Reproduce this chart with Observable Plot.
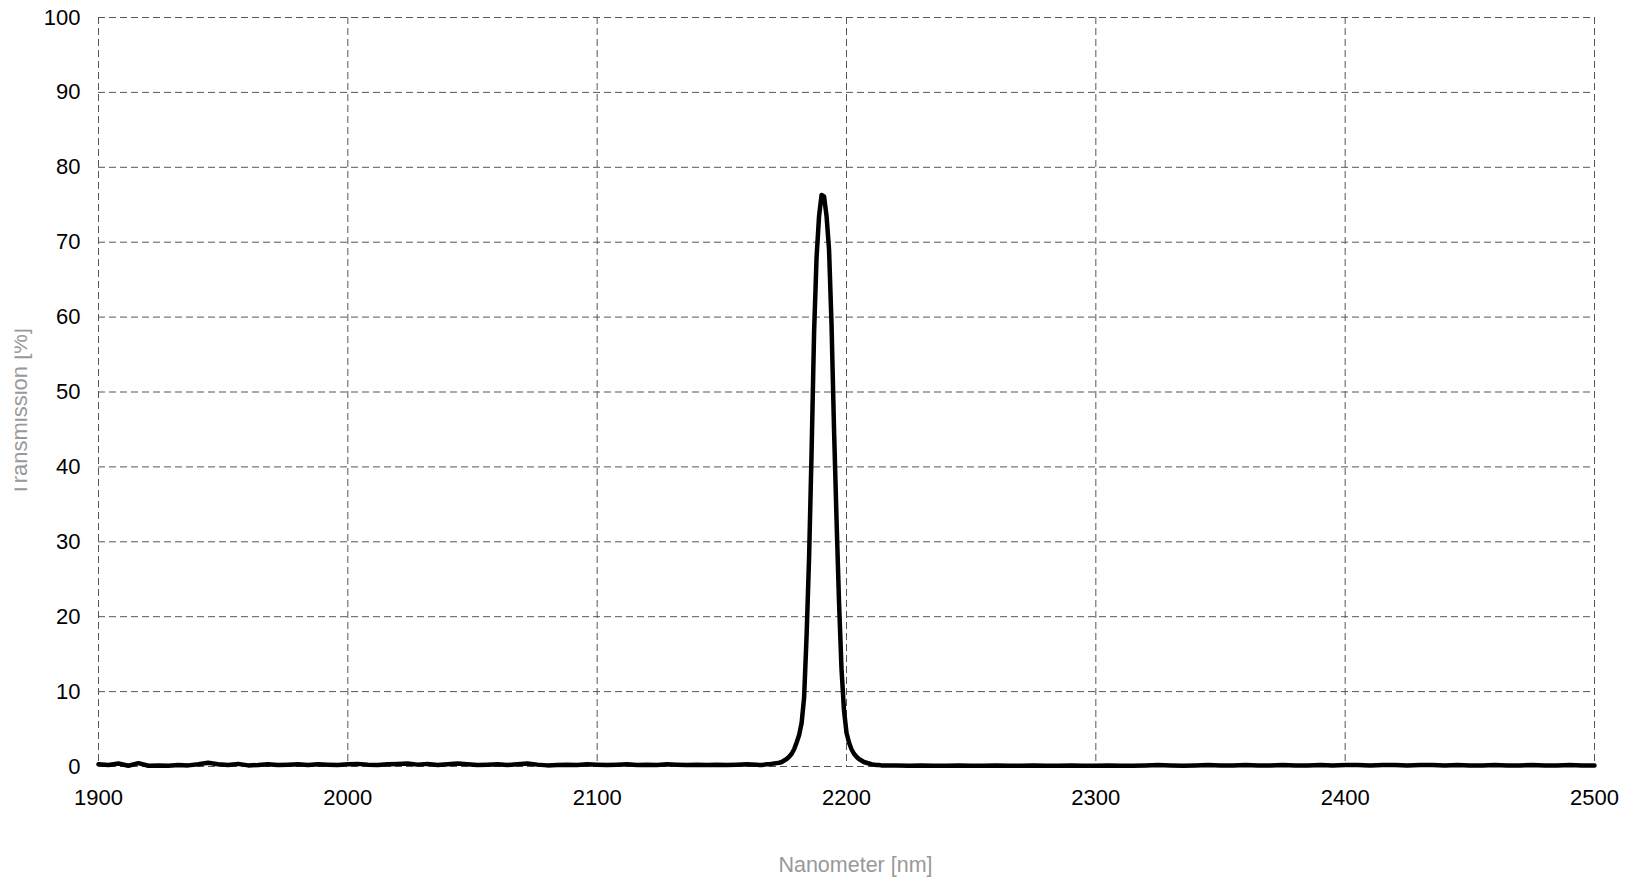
<!DOCTYPE html>
<html>
<head>
<meta charset="utf-8">
<script src="https://cdn.jsdelivr.net/npm/d3@7"></script>
<script src="https://cdn.jsdelivr.net/npm/@observablehq/plot@0.6"></script>
<style>
  html, body { margin: 0; padding: 0; background: #fff; overflow: hidden; }
</style>
</head>
<body>
<div id="chart"></div>
<script>
// Tick labels
const xTicks = [1900, 2000, 2100, 2200, 2300, 2400, 2500];
const yTicks = [0, 10, 20, 30, 40, 50, 60, 70, 80, 90, 100];
const xLabel = "Nanometer [nm]";
const yLabel = "Transmission [%]";

// Left baseline: 1900..2164 every 4 nm
const leftNm = d3.range(1900, 2165, 4);
const leftT = [
  0.3, 0.2, 0.4, 0.1, 0.45, 0.1, 0.15, 0.1, 0.2, 0.15,
  0.3, 0.5, 0.3, 0.2, 0.35, 0.15, 0.2, 0.3, 0.2, 0.25,
  0.3, 0.2, 0.3, 0.25, 0.2, 0.3, 0.35, 0.25, 0.2, 0.3,
  0.35, 0.4, 0.25, 0.35, 0.2, 0.3, 0.4, 0.3, 0.2, 0.25,
  0.3, 0.2, 0.3, 0.4, 0.25, 0.15, 0.2, 0.25, 0.2, 0.3,
  0.25, 0.2, 0.25, 0.3, 0.2, 0.25, 0.2, 0.3, 0.25, 0.2,
  0.25, 0.2, 0.25, 0.2, 0.25, 0.3, 0.25
];

// Peak region: 2165..2215 every 1 nm
const peakNm = d3.range(2165, 2216, 1);
const peakT = [
  0.2, 0.2, 0.25, 0.3, 0.3, 0.35, 0.4, 0.45, 0.5, 0.6,
  0.8, 1.0, 1.3, 1.7, 2.3, 3.2, 4.2, 5.8, 9.2, 17.5,
  28, 42, 58, 68, 73.5, 76.3, 76.1, 73.5, 69, 59,
  45, 33, 22, 13, 7.5, 4.5, 3.2, 2.3, 1.7, 1.3,
  1.0, 0.8, 0.6, 0.5, 0.4, 0.3, 0.25, 0.2, 0.2, 0.15, 0.15
];

// Right baseline: 2220..2500 every 5 nm
const rightNm = d3.range(2220, 2501, 5);
const rightT = [
  0.15, 0.1, 0.15, 0.1, 0.1, 0.15, 0.1, 0.1, 0.15, 0.1,
  0.1, 0.15, 0.1, 0.1, 0.15, 0.1, 0.1, 0.15, 0.1, 0.1,
  0.15, 0.2, 0.15, 0.1, 0.15, 0.2, 0.15, 0.15, 0.2, 0.15,
  0.15, 0.2, 0.15, 0.15, 0.2, 0.15, 0.2, 0.2, 0.15, 0.2,
  0.2, 0.15, 0.2, 0.2, 0.15, 0.2, 0.15, 0.15, 0.2, 0.15,
  0.15, 0.2, 0.15, 0.15, 0.2, 0.15, 0.15
];

const data = [];
[[leftNm, leftT], [peakNm, peakT], [rightNm, rightT]].forEach(([xs, ys]) => {
  const n = Math.min(xs.length, ys.length);
  for (let i = 0; i < n; i++) data.push({nm: xs[i], t: ys[i]});
});

const chart = Plot.plot({
  width: 1625,
  height: 878,
  marginLeft: 98,
  marginRight: 31,
  marginTop: 17,
  marginBottom: 112,
  style: {fontFamily: "'Liberation Sans', Arial, Helvetica, sans-serif", fontSize: "22px", color: "#000", background: "#fff"},
  x: {domain: [1900, 2500]},
  y: {domain: [0, 100]},
  marks: [
    Plot.gridX(xTicks, {stroke: "#555", strokeOpacity: 1, strokeWidth: 1, strokeDasharray: "7,4"}),
    Plot.gridY(yTicks, {stroke: "#555", strokeOpacity: 1, strokeWidth: 1, strokeDasharray: "7,4"}),
    Plot.axisX(xTicks, {tickSize: 0, tickPadding: 23, fontSize: 22, label: null, tickFormat: d => String(d)}),
    Plot.axisY(yTicks, {tickSize: 0, tickPadding: 18, fontSize: 22, label: null, tickFormat: d => String(d)}),
    Plot.line(data, {x: "nm", y: "t", stroke: "#000", strokeWidth: 4.5, strokeLinejoin: "round", strokeLinecap: "round"}),
    Plot.text([xLabel], {frameAnchor: "bottom", dx: 9, dy: 99, fill: "#999", fontSize: 21.5, lineAnchor: "middle", textAnchor: "middle"}),
    Plot.text([yLabel], {frameAnchor: "left", dx: -79, dy: 20, rotate: -90, fill: "#999", fontSize: 22, lineAnchor: "middle", textAnchor: "middle", ariaLabel: "ylabel"})
  ]
});
document.getElementById("chart").appendChild(chart);

// The reference clips the left edge of the rotated y-axis title
const svgNS = "http://www.w3.org/2000/svg";
const labelText = Array.from(chart.querySelectorAll("text")).find(t => t.textContent === yLabel);
if (labelText) {
  let markG = labelText.parentNode;
  const defs = document.createElementNS(svgNS, "defs");
  const cp = document.createElementNS(svgNS, "clipPath");
  cp.setAttribute("id", "ylabel-clip");
  cp.setAttribute("clipPathUnits", "userSpaceOnUse");
  const r = document.createElementNS(svgNS, "rect");
  r.setAttribute("x", 14.5); r.setAttribute("y", 0);
  r.setAttribute("width", 1625); r.setAttribute("height", 878);
  cp.appendChild(r); defs.appendChild(cp);
  chart.insertBefore(defs, chart.firstChild);
  const wrapper = document.createElementNS(svgNS, "g");
  markG.parentNode.insertBefore(wrapper, markG);
  wrapper.appendChild(markG);
  wrapper.setAttribute("clip-path", "url(#ylabel-clip)");
}
</script>
</body>
</html>
